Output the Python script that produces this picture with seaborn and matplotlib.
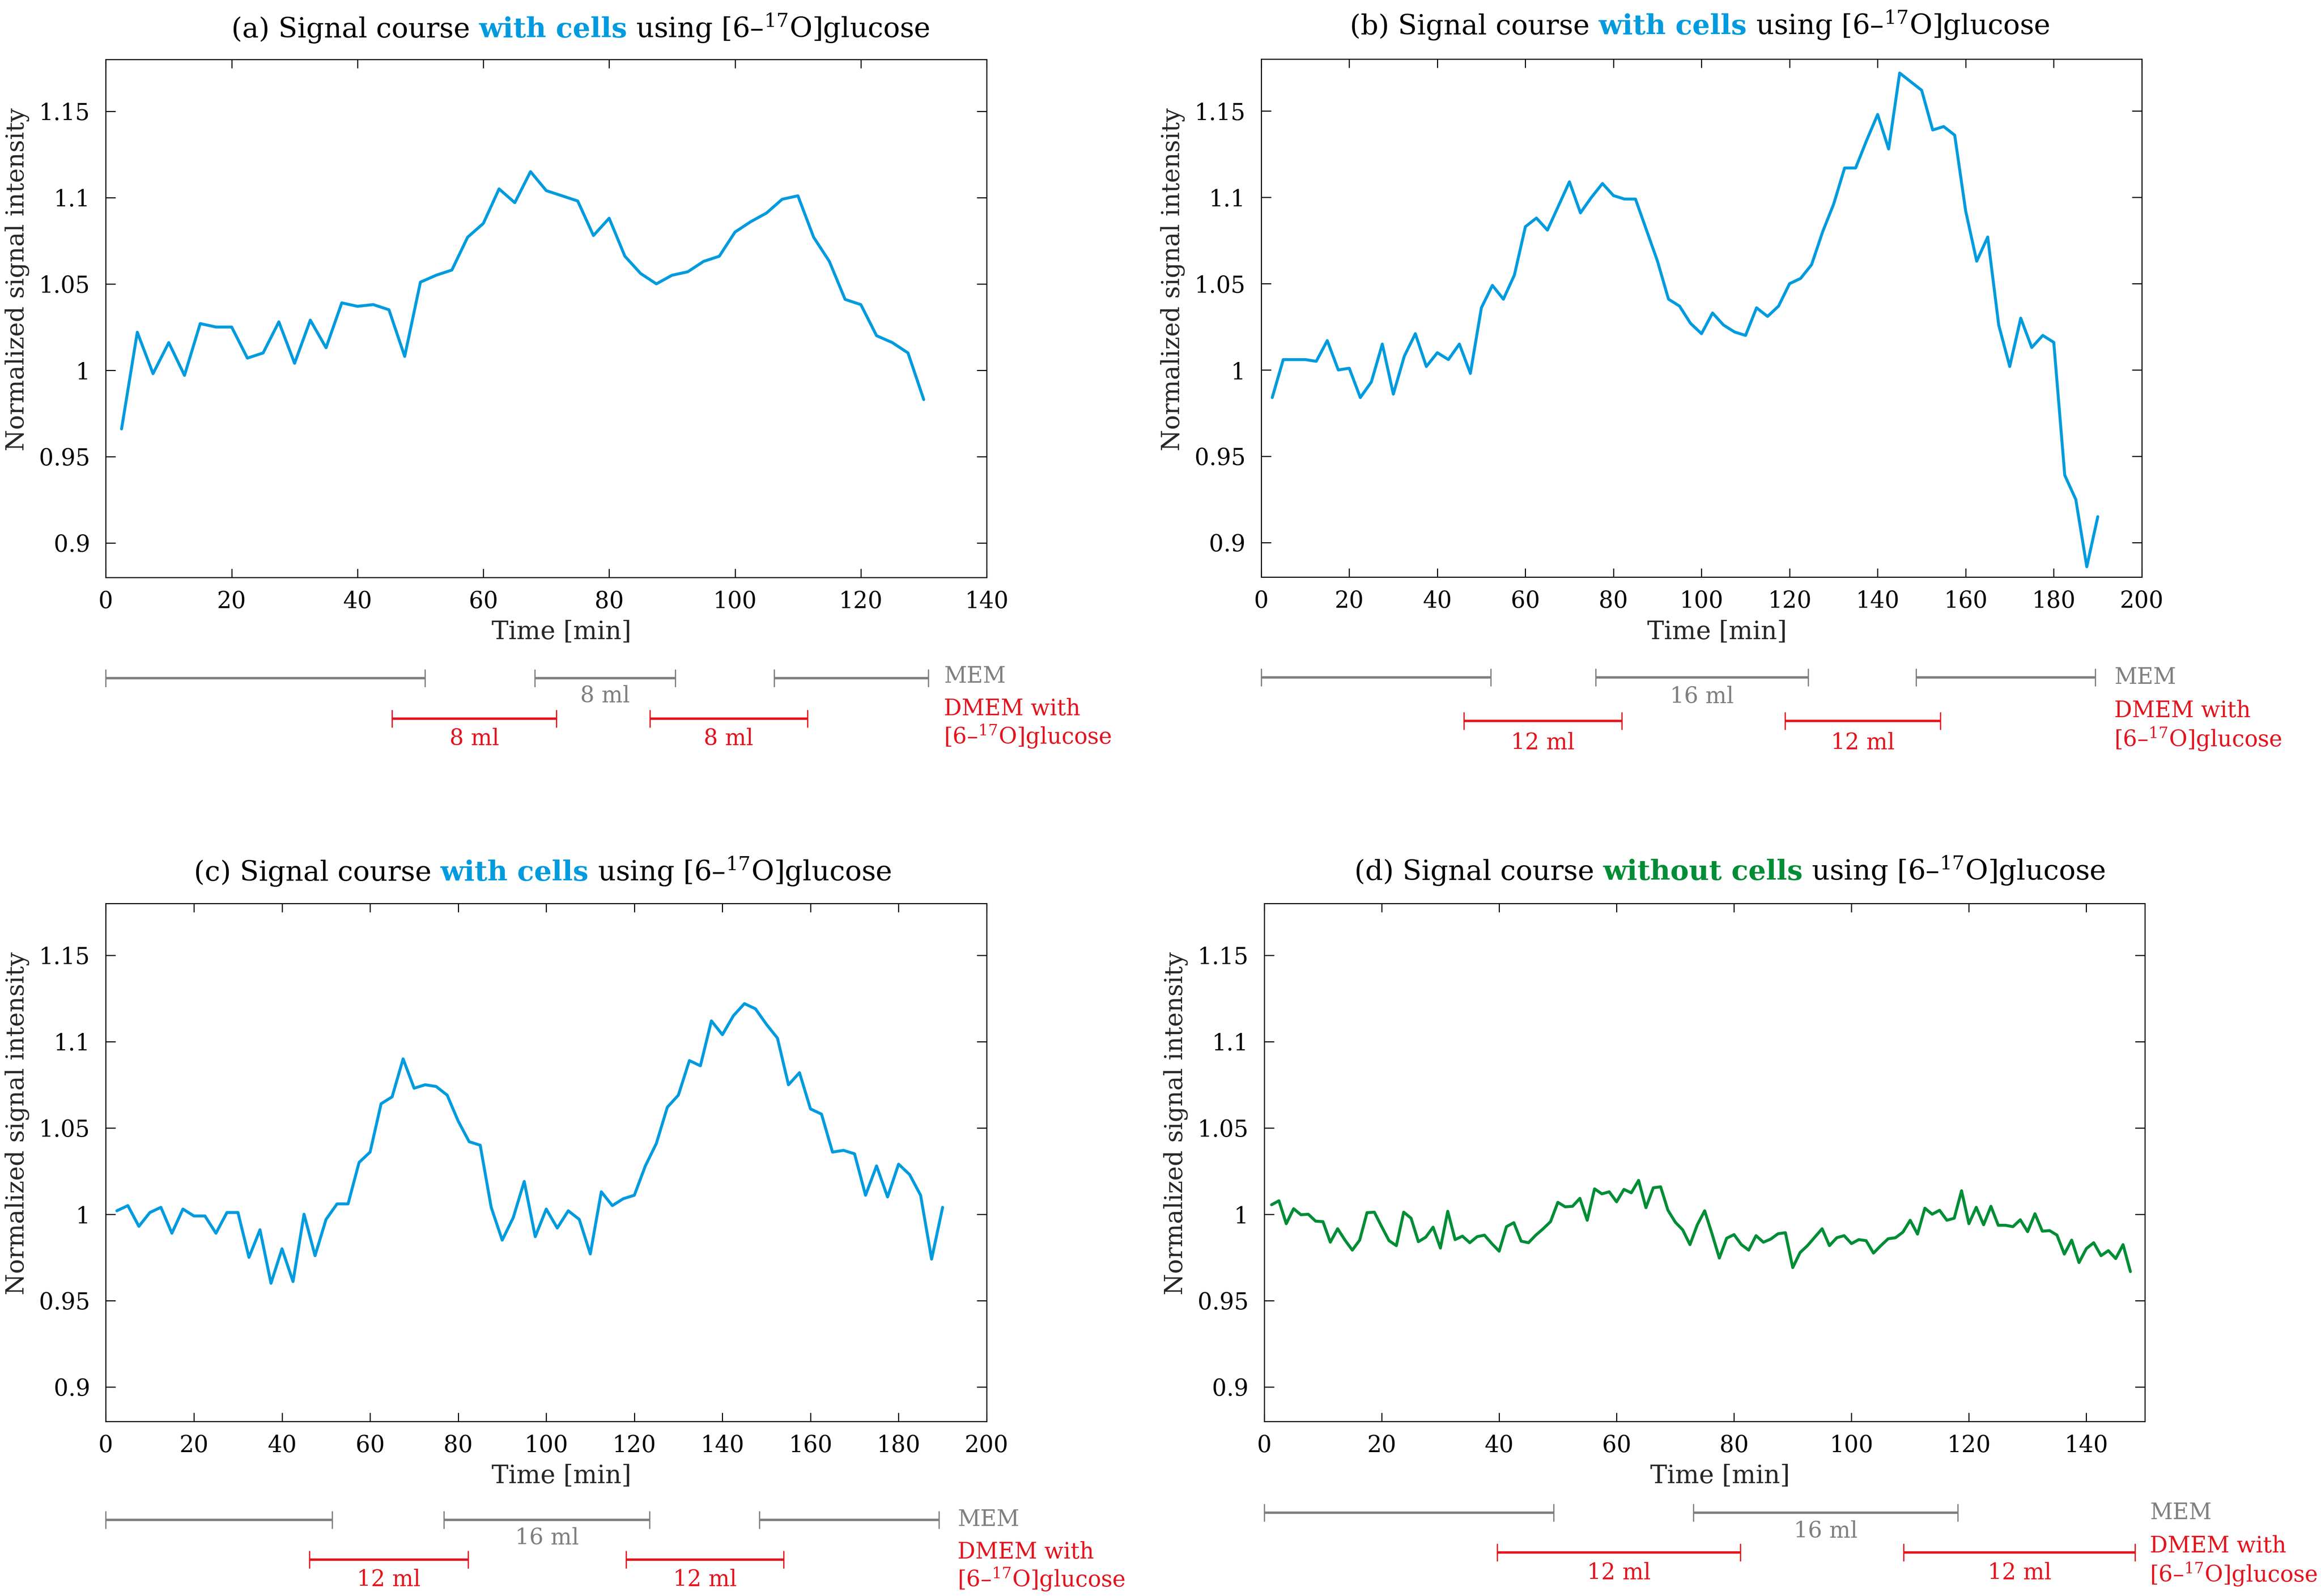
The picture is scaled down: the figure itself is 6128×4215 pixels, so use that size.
import numpy as np
import pandas as pd
import matplotlib
matplotlib.use("Agg")
import matplotlib.pyplot as plt
import matplotlib.transforms as mtransforms
from matplotlib.offsetbox import TextArea, HPacker, AnnotationBbox
import seaborn as sns

# ------------------------------------------------------------------ data
time_a = [2.5, 5, 7.5, 10, 12.5, 15, 17.5, 20, 22.5, 25, 27.5, 30, 32.5, 35, 37.5, 40,
          42.5, 45, 47.5, 50, 52.5, 55, 57.5, 60, 62.5, 65, 67.5, 70, 72.5, 75, 77.5, 80,
          82.5, 85, 87.5, 90, 92.5, 95, 97.5, 100, 102.5, 105, 107.5, 110, 112.5, 115,
          117.5, 120, 122.5, 125, 127.5, 130]
signal_a = [0.966, 1.022, 0.998, 1.016, 0.997, 1.027, 1.025, 1.025, 1.007, 1.010,
            1.028, 1.004, 1.029, 1.013, 1.039, 1.037, 1.038, 1.035, 1.008, 1.051,
            1.055, 1.058, 1.077, 1.085, 1.105, 1.097, 1.115, 1.104, 1.101, 1.098,
            1.078, 1.088, 1.066, 1.056, 1.050, 1.055, 1.057, 1.063, 1.066, 1.080,
            1.086, 1.091, 1.099, 1.101, 1.077, 1.063, 1.041, 1.038, 1.020, 1.016,
            1.010, 0.983]

time_b = [2.5, 5, 7.5, 10, 12.5, 15, 17.5, 20, 22.5, 25, 27.5, 30, 32.5, 35, 37.5, 40,
          42.5, 45, 47.5, 50, 52.5, 55, 57.5, 60, 62.5, 65, 67.5, 70, 72.5, 75, 77.5, 80,
          82.5, 85, 87.5, 90, 92.5, 95, 97.5, 100, 102.5, 105, 107.5, 110, 112.5, 115,
          117.5, 120, 122.5, 125, 127.5, 130, 132.5, 135, 137.5, 140, 142.5, 145, 147.5,
          150, 152.5, 155, 157.5, 160, 162.5, 165, 167.5, 170, 172.5, 175, 177.5, 180,
          182.5, 185, 187.5, 190]
signal_b = [0.984, 1.006, 1.006, 1.006, 1.005, 1.017, 1.000, 1.001, 0.984, 0.993,
            1.015, 0.986, 1.008, 1.021, 1.002, 1.010, 1.006, 1.015, 0.998, 1.036,
            1.049, 1.041, 1.055, 1.083, 1.088, 1.081, 1.095, 1.109, 1.091, 1.100,
            1.108, 1.101, 1.099, 1.099, 1.081, 1.063, 1.041, 1.037, 1.027, 1.021,
            1.033, 1.026, 1.022, 1.020, 1.036, 1.031, 1.037, 1.050, 1.053, 1.061,
            1.080, 1.096, 1.117, 1.117, 1.133, 1.148, 1.128, 1.172, 1.167, 1.162,
            1.139, 1.141, 1.136, 1.092, 1.063, 1.077, 1.026, 1.002, 1.030, 1.013,
            1.020, 1.016, 0.939, 0.925, 0.886, 0.915]

time_c = [2.5, 5, 7.5, 10, 12.5, 15, 17.5, 20, 22.5, 25, 27.5, 30, 32.5, 35, 37.5, 40,
          42.5, 45, 47.5, 50, 52.5, 55, 57.5, 60, 62.5, 65, 67.5, 70, 72.5, 75, 77.5, 80,
          82.5, 85, 87.5, 90, 92.5, 95, 97.5, 100, 102.5, 105, 107.5, 110, 112.5, 115,
          117.5, 120, 122.5, 125, 127.5, 130, 132.5, 135, 137.5, 140, 142.5, 145, 147.5,
          150, 152.5, 155, 157.5, 160, 162.5, 165, 167.5, 170, 172.5, 175, 177.5, 180,
          182.5, 185, 187.5, 190]
signal_c = [1.002, 1.005, 0.993, 1.001, 1.004, 0.989, 1.003, 0.999, 0.999, 0.989,
            1.001, 1.001, 0.975, 0.991, 0.960, 0.980, 0.961, 1.000, 0.976, 0.997,
            1.006, 1.006, 1.030, 1.036, 1.064, 1.068, 1.090, 1.073, 1.075, 1.074,
            1.069, 1.054, 1.042, 1.040, 1.004, 0.985, 0.998, 1.019, 0.987, 1.003,
            0.992, 1.002, 0.997, 0.977, 1.013, 1.005, 1.009, 1.011, 1.028, 1.041,
            1.062, 1.069, 1.089, 1.086, 1.112, 1.104, 1.115, 1.122, 1.119, 1.110,
            1.102, 1.075, 1.082, 1.061, 1.058, 1.036, 1.037, 1.035, 1.011, 1.028,
            1.010, 1.029, 1.023, 1.011, 0.974, 1.004]

time_d = [1.25, 2.5, 3.75, 5, 6.25, 7.5, 8.75, 10, 11.25, 12.5, 13.75, 15, 16.25, 17.5,
          18.75, 20, 21.25, 22.5, 23.75, 25, 26.25, 27.5, 28.75, 30, 31.25, 32.5, 33.75,
          35, 36.25, 37.5, 38.75, 40, 41.25, 42.5, 43.75, 45, 46.25, 47.5, 48.75, 50,
          51.25, 52.5, 53.75, 55, 56.25, 57.5, 58.75, 60, 61.25, 62.5, 63.75, 65, 66.25,
          67.5, 68.75, 70, 71.25, 72.5, 73.75, 75, 76.25, 77.5, 78.75, 80, 81.25, 82.5,
          83.75, 85, 86.25, 87.5, 88.75, 90, 91.25, 92.5, 93.75, 95, 96.25, 97.5, 98.75,
          100, 101.25, 102.5, 103.75, 105, 106.25, 107.5, 108.75, 110, 111.25, 112.5,
          113.75, 115, 116.25, 117.5, 118.75, 120, 121.25, 122.5, 123.75, 125, 126.25,
          127.5, 128.75, 130, 131.25, 132.5, 133.75, 135, 136.25, 137.5, 138.75, 140,
          141.25, 142.5, 143.75, 145, 146.25, 147.5]
signal_d = [1.0055, 1.0078, 0.9945, 1.0032, 0.9997, 1.0000, 0.9960, 0.9957, 0.9838, 0.9916,
            0.9850, 0.9792, 0.9850, 1.0009, 1.0012, 0.9928, 0.9847, 0.9818, 1.0012, 0.9977,
            0.9841, 0.9867, 0.9925, 0.9804, 1.0017, 0.9853, 0.9873, 0.9835, 0.9870, 0.9879,
            0.9830, 0.9786, 0.9928, 0.9951, 0.9844, 0.9835, 0.9879, 0.9916, 0.9957, 1.0069,
            1.0043, 1.0046, 1.0092, 0.9965, 1.0147, 1.0118, 1.0130, 1.0072, 1.0144, 1.0124,
            1.0196, 1.0038, 1.0153, 1.0159, 1.0023, 0.9954, 0.9910, 0.9824, 0.9939, 1.0020,
            0.9887, 0.9746, 0.9861, 0.9882, 0.9824, 0.9792, 0.9876, 0.9838, 0.9856, 0.9887,
            0.9893, 0.9691, 0.9778, 0.9818, 0.9867, 0.9916, 0.9818, 0.9864, 0.9876, 0.9830,
            0.9853, 0.9847, 0.9775, 0.9818, 0.9858, 0.9864, 0.9896, 0.9965, 0.9885, 1.0035,
            1.0000, 1.0023, 0.9965, 0.9977, 1.0136, 0.9945, 1.0040, 0.9939, 1.0046, 0.9936,
            0.9936, 0.9928, 0.9968, 0.9899, 1.0003, 0.9902, 0.9905, 0.9879, 0.9769, 0.9850,
            0.9720, 0.9801, 0.9835, 0.9760, 0.9789, 0.9743, 0.9824, 0.9668]

# medium exchange periods (start, end) in minutes
mem_a = [(0, 50.7), (68.2, 90.5), (106.2, 130.7)]
dmem_a = [(45.5, 71.6), (86.5, 111.5)]
mem_b = [(0, 52.1), (76.0, 124.2), (148.7, 189.4)]
dmem_b = [(46.0, 81.9), (119.0, 154.2)]
mem_c = [(0, 51.4), (76.8, 123.5), (148.4, 189.2)]
dmem_c = [(46.2, 82.3), (118.1, 153.9)]
mem_d = [(0, 49.3), (73.1, 118.1)]
dmem_d = [(39.7, 81.1), (108.9, 148.3)]

mem_labels_a = ["", "8 ml", ""]
dmem_labels_a = ["8 ml", "8 ml"]
mem_labels_b = ["", "16 ml", ""]
dmem_labels_b = ["12 ml", "12 ml"]
mem_labels_c = ["", "16 ml", ""]
dmem_labels_c = ["12 ml", "12 ml"]
mem_labels_d = ["", "16 ml"]
dmem_labels_d = ["12 ml", "12 ml"]

panel_letters = ["(a)", "(b)", "(c)", "(d)"]
condition_words = ["with cells", "with cells", "with cells", "without cells"]
x_limits = [140, 200, 200, 150]
x_tick_step = [20, 20, 20, 20]
x_tick_max = [140, 200, 200, 140]
y_ticks = [0.9, 0.95, 1.0, 1.05, 1.1, 1.15]
y_tick_labels = ["0.9", "0.95", "1", "1.05", "1.1", "1.15"]

# ------------------------------------------------------------------ style
BLUE = "#009BDE"
GREEN = "#008D36"
RED = "#E3141E"
GRAY = "#7F7F7F"
FONT = "DejaVu Serif"

sns.set_theme(style="ticks", rc={
    "axes.edgecolor": "black",
    "axes.linewidth": 0.5,
    "xtick.direction": "in",
    "ytick.direction": "in",
    "xtick.top": True,
    "ytick.right": True,
    "xtick.major.size": 4.2,
    "ytick.major.size": 4.6,
    "xtick.major.width": 0.5,
    "ytick.major.width": 0.5,
    "xtick.major.pad": 6,
    "ytick.major.pad": 7.5,
    "xtick.color": "black",
    "ytick.color": "black",
    "axes.facecolor": "white",
    "figure.facecolor": "white",
})
plt.rcParams["font.family"] = [FONT, "DejaVu Sans"]
plt.rcParams["mathtext.fontset"] = "dejavuserif"

W, H = 6128, 4215
DPI = 400
fig = plt.figure(figsize=(W / DPI, H / DPI), dpi=DPI)

positions = [
    [0.0456, 0.6382, 0.3795, 0.3246],
    [0.5434, 0.6384, 0.3794, 0.3245],
    [0.0456, 0.1094, 0.3795, 0.3245],
    [0.5447, 0.1094, 0.3795, 0.3245],
]
title_x = [0.539, 0.498, 0.496, 0.5287]
title_y = [1.029, 1.035, 1.031, 1.032]

# annotation rows (figure fractions)
rows = [
    dict(gray=0.5752, red=0.5497, gl=0.5639, rl=0.5371, mem=0.5763, d1=0.5559, d2=0.5386, tx=133.2),
    dict(gray=0.5756, red=0.5483, gl=0.5635, rl=0.5345, mem=0.5756, d1=0.5547, d2=0.5369, tx=193.7),
    dict(gray=0.0478, red=0.0228, gl=0.0363, rl=0.0103, mem=0.0479, d1=0.0275, d2=0.0104, tx=193.4),
    dict(gray=0.0522, red=0.0272, gl=0.0406, rl=0.0145, mem=0.0522, d1=0.0313, d2=0.0135, tx=150.8),
]

times = [time_a, time_b, time_c, time_d]
signals = [signal_a, signal_b, signal_c, signal_d]
mems = [mem_a, mem_b, mem_c, mem_d]
dmems = [dmem_a, dmem_b, dmem_c, dmem_d]
mem_labels = [mem_labels_a, mem_labels_b, mem_labels_c, mem_labels_d]
dmem_labels = [dmem_labels_a, dmem_labels_b, dmem_labels_c, dmem_labels_d]
line_colors = [BLUE, BLUE, BLUE, GREEN]

TITLE_FS = 13.2
TICK_FS = 10.9
LABEL_FS = 12
YLABEL_FS = 11.7
ANN_FS = 10.6
CAP_H = 22 / H


def span(ax, trans, x0, x1, y, color):
    ax.plot([x0, x1], [y, y], transform=trans, color=color, lw=1.15,
            solid_capstyle="butt", clip_on=False)
    for xx in (x0, x1):
        ax.plot([xx, xx], [y - CAP_H, y + CAP_H], transform=trans, color=color,
                lw=0.6, clip_on=False)


for i in range(4):
    ax = fig.add_axes(positions[i])
    df = pd.DataFrame({"Time": times[i], "Signal": signals[i]})
    sns.lineplot(data=df, x="Time", y="Signal", ax=ax, color=line_colors[i],
                 linewidth=1.4, sort=False)

    for s in ax.spines.values():
        s.set_visible(True)
        s.set_linewidth(0.5)
        s.set_color("black")

    ax.set_xticks(list(range(0, x_tick_max[i] + 1, x_tick_step[i])))
    ax.set_yticks(y_ticks)
    ax.set_yticklabels(y_tick_labels)
    ax.tick_params(labelsize=TICK_FS)
    for lab in ax.get_xticklabels() + ax.get_yticklabels():
        lab.set_fontfamily(FONT)

    ax.set_xlabel("Time [min]", fontsize=LABEL_FS, family=FONT)
    ax.set_ylabel("Normalized signal intensity", fontsize=YLABEL_FS, family=FONT)
    ax.xaxis.set_label_coords(0.5175, -0.082)
    ax.yaxis.set_label_coords(-0.0865, 0.575)

    # title with mixed styles
    cond_color = GREEN if i == 3 else BLUE
    parts = [
        TextArea(f"{panel_letters[i]} Signal course",
                 textprops=dict(fontsize=TITLE_FS, color="black", family=FONT)),
        TextArea(condition_words[i],
                 textprops=dict(fontsize=TITLE_FS, color=cond_color, family=FONT,
                                fontweight="bold")),
        TextArea("using [6–$^{17}$O]glucose",
                 textprops=dict(fontsize=TITLE_FS, color="black", family=FONT)),
    ]
    pack = HPacker(children=parts, align="baseline", pad=0, sep=TITLE_FS * 0.318)
    ab = AnnotationBbox(pack, (title_x[i], title_y[i]), xycoords="axes fraction",
                        box_alignment=(0.5, 0.0), frameon=False, pad=0,
                        annotation_clip=False)
    ax.add_artist(ab)

    # medium exchange annotation
    trans = mtransforms.blended_transform_factory(ax.transData, fig.transFigure)
    r = rows[i]
    for (x0, x1), lab in zip(mems[i], mem_labels[i]):
        span(ax, trans, x0, x1, r["gray"], GRAY)
        if lab:
            ax.text((x0 + x1) / 2, r["gl"], lab, transform=trans, ha="center",
                    va="center", fontsize=ANN_FS, color=GRAY, family=FONT)
    for (x0, x1), lab in zip(dmems[i], dmem_labels[i]):
        span(ax, trans, x0, x1, r["red"], RED)
        ax.text((x0 + x1) / 2, r["rl"], lab, transform=trans, ha="center",
                va="center", fontsize=ANN_FS, color=RED, family=FONT)
    ax.text(r["tx"], r["mem"], "MEM", transform=trans, ha="left", va="center",
            fontsize=ANN_FS, color=GRAY, family=FONT)
    ax.text(r["tx"], r["d1"], "DMEM with", transform=trans, ha="left", va="center",
            fontsize=ANN_FS, color=RED, family=FONT)
    ax.text(r["tx"], r["d2"], "[6–$^{17}$O]glucose", transform=trans, ha="left",
            va="center", fontsize=ANN_FS, color=RED, family=FONT)

    ax.set_xlim(0, x_limits[i])
    ax.set_ylim(0.88, 1.18)

fig.savefig("out.png", dpi=DPI)
